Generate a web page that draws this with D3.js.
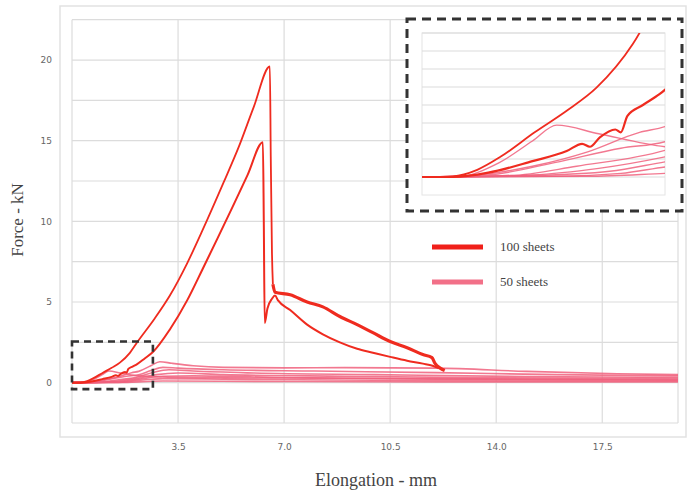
<!DOCTYPE html>
<html>
<head>
<meta charset="utf-8">
<script src="https://cdn.jsdelivr.net/npm/d3@7"></script>
<style>
  body { margin: 0; background: #fff; }
</style>
</head>
<body>
<div id="container"></div>
<script>
// 100 sheets, two specimens: [elongation mm, force kN]
let sheets100a = [[0,0],[0.28,0.01],[0.5,0.1],[0.71,0.28],[1.02,0.62],[1.31,0.92],[1.58,1.24],[1.91,1.85],[2.15,2.5],[2.7,3.9],[3.23,5.4],[3.8,7.4],[4.32,9.5],[5.0,12.4],[5.5,14.6],[6.0,17.1],[6.53,19.6],[6.56,14.0],[6.6,8.0],[6.63,6.1]];
let tail100a = [[6.63,6.1],[6.7,5.6],[7.2,5.45],[7.76,5.0],[8.28,4.7],[8.84,4.1],[9.41,3.6],[9.93,3.1],[10.5,2.55],[11.06,2.17],[11.58,1.74],[11.88,1.55],[11.98,1.2],[12.15,0.9],[12.3,0.75]];
let sheets100b = [[0,0],[0.28,0.0],[0.6,0.06],[1.0,0.22],[1.31,0.36],[1.45,0.46],[1.52,0.42],[1.61,0.55],[1.75,0.66],[1.8,0.62],[1.86,0.85],[2.0,1.0],[2.15,1.15],[2.4,1.5],[2.67,1.9],[3.23,3.3],[3.8,5.1],[4.3,7.0],[4.79,8.9],[5.3,10.9],[5.8,12.9],[6.3,14.9],[6.33,10.0],[6.36,3.7],[6.45,4.6],[6.6,5.2],[6.7,5.4],[6.8,5.1],[7.2,4.5],[7.76,3.6],[8.28,3.0],[8.84,2.5],[9.41,2.1],[9.93,1.86],[10.5,1.6],[11.06,1.36],[11.58,1.18],[11.9,1.05],[12.1,0.9]];

// 50 sheets, several specimens
let sheets50 = [
  [[0,0],[0.3,0],[0.7,0.2],[1.0,0.5],[1.22,0.72],[1.6,0.6],[2.2,0.42],[3,0.35],[5,0.3],[8,0.28],[12,0.25],[16,0.2],[20,0.15]],
  [[0,0],[0.5,0.03],[1.0,0.15],[1.5,0.35],[1.97,0.62],[2.2,0.7],[2.6,1.05],[2.9,1.3],[3.3,1.2],[4,1.05],[5,0.95],[7,0.92],[9,0.93],[12,0.9],[15,0.7],[18,0.55],[20,0.5]],
  [[0,0],[0.6,0.03],[1.2,0.2],[1.8,0.4],[2.2,0.49],[2.6,0.75],[3.0,0.95],[3.5,0.9],[5,0.8],[8,0.72],[12,0.62],[16,0.5],[20,0.42]],
  [[0,0],[0.8,0.02],[1.4,0.15],[2.2,0.37],[2.7,0.65],[3.2,0.8],[4,0.72],[6,0.6],[10,0.5],[15,0.38],[20,0.32]],
  [[0,0],[1.0,0.03],[1.6,0.12],[2.2,0.28],[2.8,0.5],[3.5,0.6],[5,0.5],[9,0.4],[14,0.3],[20,0.25]],
  [[0,0],[1.0,0.02],[1.7,0.08],[2.2,0.21],[3,0.4],[4,0.42],[7,0.32],[12,0.22],[20,0.18]],
  [[0,0],[1.2,0.01],[1.8,0.05],[2.2,0.14],[3,0.25],[5,0.22],[10,0.15],[20,0.1]],
  [[0,0],[1.5,0.01],[2.2,0.05],[3,0.1],[6,0.08],[12,0.05],[20,0.05]]
];

let xTicks = [3.5, 7.0, 10.5, 14.0, 17.5];
let yTicks = [0, 5, 10, 15, 20];
let legendLabels = ["100 sheets", "50 sheets"];

let w = 691, h = 492;
let red = "#ef2b1f", pink = "#f0607c";
let viz = d3.select("#container").append("svg")
    .attr("width", w)
    .attr("height", h);

let x = d3.scaleLinear().domain([0, 20]).range([72, 678]);
let y = d3.scaleLinear().domain([-2.5, 22.5]).range([423, 19.7]);

// outer frame
viz.append("rect")
    .attr("x", 60).attr("y", 6)
    .attr("width", 626).attr("height", 431)
    .attr("fill", "#fff")
    .attr("stroke", "#e2e2e2")
    .attr("stroke-width", 1.5);

// grid
let grid = viz.append("g");
grid.selectAll(".hg")
    .data(d3.range(-2.5, 22.6, 2.5))
    .enter().append("line")
    .attr("x1", x(0)).attr("x2", x(20))
    .attr("y1", d => y(d)).attr("y2", d => y(d))
    .attr("stroke", "#dcdcdc").attr("stroke-width", 1.2);
grid.selectAll(".vg")
    .data([0].concat(xTicks).concat([20]))
    .enter().append("line")
    .attr("x1", d => x(d)).attr("x2", d => x(d))
    .attr("y1", y(-2.5)).attr("y2", y(22.5))
    .attr("stroke", "#dcdcdc").attr("stroke-width", 1.2);

// axes (labels only)
let xAxis = viz.append("g")
    .attr("transform", "translate(0," + 441 + ")")
    .call(d3.axisBottom(x).tickValues(xTicks).tickFormat(d3.format(".1f")).tickSize(0));
let yAxis = viz.append("g")
    .attr("transform", "translate(" + 55 + ",0)")
    .call(d3.axisLeft(y).tickValues(yTicks).tickSize(0));
[xAxis, yAxis].forEach(a => {
  a.select(".domain").remove();
  a.selectAll("text")
    .attr("fill", "#666")
    .attr("font-size", 9)
    .attr("font-family", "DejaVu Sans");
});

viz.append("text")
    .text("Force - kN")
    .attr("transform", "translate(23,220) rotate(-90)")
    .attr("text-anchor", "middle")
    .attr("font-size", 17)
    .attr("fill", "#444")
    .attr("font-family", "Liberation Serif");
viz.append("text")
    .text("Elongation - mm")
    .attr("x", 376).attr("y", 486)
    .attr("text-anchor", "middle")
    .attr("font-size", 18)
    .attr("fill", "#444")
    .attr("font-family", "Liberation Serif");

let line = d3.line().curve(d3.curveMonotoneX).x(d => x(d[0])).y(d => y(d[1]));

let curves = viz.append("g");
sheets50.forEach(s => {
  curves.append("path").attr("d", line(s))
    .attr("fill", "none").attr("stroke", pink)
    .attr("stroke-width", 1.6).attr("opacity", 0.85);
});
curves.append("path").attr("d", line(sheets100b))
  .attr("fill", "none").attr("stroke", red).attr("stroke-width", 2);
curves.append("path").attr("d", line(sheets100a))
  .attr("fill", "none").attr("stroke", red).attr("stroke-width", 1.8);
curves.append("path").attr("d", line(tail100a))
  .attr("fill", "none").attr("stroke", red).attr("stroke-width", 3.2)
  .attr("stroke-linejoin", "round");

// zoom box
viz.append("rect")
    .attr("x", x(0)).attr("y", y(2.55))
    .attr("width", x(2.67) - x(0)).attr("height", y(-0.4) - y(2.55))
    .attr("fill", "none")
    .attr("stroke", "#333")
    .attr("stroke-width", 2.6)
    .attr("stroke-dasharray", "7,5");

// inset
let ix = d3.scaleLinear().domain([0, 2.2]).range([422, 665]);
let iy = d3.scaleLinear().domain([-0.25, 2.0]).range([195, 33]);
let inset = viz.append("g");
inset.append("rect")
    .attr("x", 407).attr("y", 19)
    .attr("width", 275).attr("height", 192)
    .attr("fill", "#fff")
    .attr("stroke", "#333")
    .attr("stroke-width", 3)
    .attr("stroke-dasharray", "9,6");
inset.append("rect")
    .attr("x", 422).attr("y", 33)
    .attr("width", 243).attr("height", 162)
    .attr("fill", "#fff")
    .attr("stroke", "#e4e4e4");
inset.selectAll(".ig")
    .data(d3.range(0, 2.01, 0.25))
    .enter().append("line")
    .attr("x1", ix(0)).attr("x2", ix(2.2))
    .attr("y1", d => iy(d)).attr("y2", d => iy(d))
    .attr("stroke", "#dcdcdc").attr("stroke-width", 1.1);
viz.append("clipPath").attr("id", "ic")
  .append("rect").attr("x", 422).attr("y", 33).attr("width", 243).attr("height", 162);
let iline = d3.line().curve(d3.curveMonotoneX).x(d => ix(d[0])).y(d => iy(d[1]));
let ic = inset.append("g").attr("clip-path", "url(#ic)");
sheets50.forEach(s => {
  ic.append("path").attr("d", iline(s))
    .attr("fill", "none").attr("stroke", pink)
    .attr("stroke-width", 1.4).attr("opacity", 0.85);
});
ic.append("path").attr("d", iline(sheets100b))
  .attr("fill", "none").attr("stroke", red).attr("stroke-width", 2.2);
ic.append("path").attr("d", iline(sheets100a))
  .attr("fill", "none").attr("stroke", red).attr("stroke-width", 1.8);

// legend
let leg = viz.append("g");
legendLabels.forEach((t, i) => {
  let ly = 247 + i * 35;
  leg.append("line")
    .attr("x1", 432).attr("x2", 483)
    .attr("y1", ly).attr("y2", ly)
    .attr("stroke", i == 0 ? "#f0201a" : "#f27088")
    .attr("stroke-width", 5);
  leg.append("text")
    .text(t)
    .attr("x", 500).attr("y", ly + 4)
    .attr("font-size", 13)
    .attr("fill", "#444")
    .attr("font-family", "Liberation Serif");
});
</script>
</body>
</html>
